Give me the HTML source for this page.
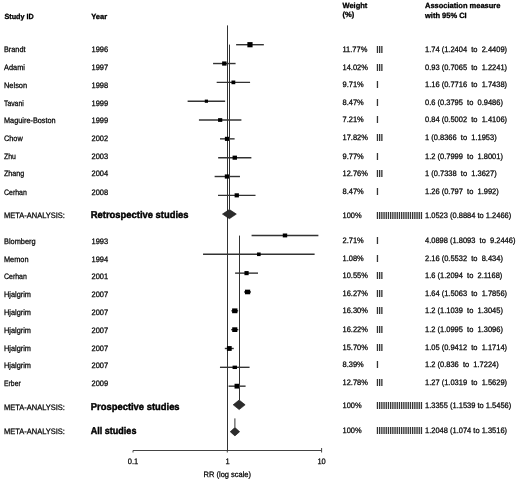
<!DOCTYPE html><html><head><meta charset="utf-8"><style>html,body{margin:0;padding:0;background:#fff;}svg{display:block;will-change:transform;}text{font-family:"Liberation Sans",sans-serif;white-space:pre;fill:#000;stroke:#000;}</style></head><body>
<svg width="520" height="480" viewBox="0 0 520 480">
<rect width="520" height="480" fill="#fff"/>
<text transform="translate(4.5,19) scale(1.0000,1)" font-size="7.5" font-weight="bold" textLength="29.20" lengthAdjust="spacingAndGlyphs" stroke-width="0.3" text-rendering="geometricPrecision">Study ID</text>
<text transform="translate(91.2,19) scale(1.0000,1)" font-size="7.5" font-weight="bold" stroke-width="0.3" text-rendering="geometricPrecision">Year</text>
<text transform="translate(342.5,8) scale(1.0000,1)" font-size="7.5" font-weight="bold" stroke-width="0.3" text-rendering="geometricPrecision">Weight</text>
<text transform="translate(342.5,17) scale(1.0000,1)" font-size="7.5" font-weight="bold" stroke-width="0.3" text-rendering="geometricPrecision">(%)</text>
<text transform="translate(425.0,8) scale(1.0000,1)" font-size="7.5" font-weight="bold" stroke-width="0.3" text-rendering="geometricPrecision">Association measure</text>
<text transform="translate(425.0,18) scale(1.0000,1)" font-size="7.5" font-weight="bold" stroke-width="0.3" text-rendering="geometricPrecision">with 95% CI</text>
<g stroke="#444" stroke-width="1" fill="none">
<line x1="133" y1="450.5" x2="321.6" y2="450.5"/>
<line x1="133" y1="450.5" x2="133" y2="452.5"/>
<line x1="227.3" y1="450.5" x2="227.3" y2="452.5"/>
<line x1="321.6" y1="448" x2="321.6" y2="452.5"/>
</g>
<line x1="227.5" y1="25.4" x2="227.5" y2="450.5" stroke="#333" stroke-width="1"/>
<line x1="236.12" y1="44.70" x2="263.85" y2="44.70" stroke="#333" stroke-width="1.4"/>
<rect x="247.38" y="42.10" width="5.2" height="5.2" fill="#000"/>
<text transform="translate(4,52) scale(0.9494,1)" font-size="7.9" textLength="22.62" lengthAdjust="spacingAndGlyphs" stroke-width="0.25" text-rendering="geometricPrecision">Brandt</text>
<text transform="translate(91.5,52) scale(0.9494,1)" font-size="7.9" stroke-width="0.25" text-rendering="geometricPrecision">1996</text>
<text transform="translate(342.5,52) scale(0.9494,1)" font-size="7.9" stroke-width="0.25" text-rendering="geometricPrecision">11.77%</text>
<text transform="translate(425.0,52) scale(0.9494,1)" font-size="7.9" stroke-width="0.25" text-rendering="geometricPrecision">1.74 (1.2404  to  2.4409)</text>
<rect x="376.80" y="46.00" width="1.3" height="7" fill="#333"/><rect x="379.00" y="46.00" width="1.3" height="7" fill="#333"/><rect x="381.20" y="46.00" width="1.3" height="7" fill="#333"/>
<line x1="213.07" y1="63.53" x2="235.58" y2="63.53" stroke="#333" stroke-width="1.4"/>
<rect x="222.13" y="61.43" width="4.4" height="4.2" fill="#000"/>
<text transform="translate(4,70) scale(0.9494,1)" font-size="7.9" textLength="22.06" lengthAdjust="spacingAndGlyphs" stroke-width="0.25" text-rendering="geometricPrecision">Adami</text>
<text transform="translate(91.5,70) scale(0.9494,1)" font-size="7.9" stroke-width="0.25" text-rendering="geometricPrecision">1997</text>
<text transform="translate(342.5,70) scale(0.9494,1)" font-size="7.9" stroke-width="0.25" text-rendering="geometricPrecision">14.02%</text>
<text transform="translate(425.0,70) scale(0.9494,1)" font-size="7.9" stroke-width="0.25" text-rendering="geometricPrecision">0.93 (0.7065  to  1.2241)</text>
<rect x="376.80" y="64.00" width="1.3" height="7" fill="#333"/><rect x="379.00" y="64.00" width="1.3" height="7" fill="#333"/><rect x="381.20" y="64.00" width="1.3" height="7" fill="#333"/>
<line x1="216.68" y1="82.36" x2="250.07" y2="82.36" stroke="#333" stroke-width="1.4"/>
<rect x="231.48" y="80.51" width="3.8" height="3.7" fill="#000"/>
<text transform="translate(4,88) scale(0.9494,1)" font-size="7.9" textLength="24.35" lengthAdjust="spacingAndGlyphs" stroke-width="0.25" text-rendering="geometricPrecision">Nelson</text>
<text transform="translate(91.5,88) scale(0.9494,1)" font-size="7.9" stroke-width="0.25" text-rendering="geometricPrecision">1998</text>
<text transform="translate(342.5,87) scale(0.9494,1)" font-size="7.9" stroke-width="0.25" text-rendering="geometricPrecision">9.71%</text>
<text transform="translate(425.0,87) scale(0.9494,1)" font-size="7.9" stroke-width="0.25" text-rendering="geometricPrecision">1.16 (0.7716  to  1.7438)</text>
<rect x="376.80" y="81.00" width="1.3" height="7" fill="#333"/>
<line x1="187.62" y1="101.19" x2="225.14" y2="101.19" stroke="#333" stroke-width="1.4"/>
<rect x="204.78" y="99.59" width="3.2" height="3.2" fill="#000"/>
<text transform="translate(4,106) scale(0.9494,1)" font-size="7.9" textLength="20.74" lengthAdjust="spacingAndGlyphs" stroke-width="0.25" text-rendering="geometricPrecision">Tavani</text>
<text transform="translate(91.5,106) scale(0.9494,1)" font-size="7.9" stroke-width="0.25" text-rendering="geometricPrecision">1999</text>
<text transform="translate(342.5,105) scale(0.9494,1)" font-size="7.9" stroke-width="0.25" text-rendering="geometricPrecision">8.47%</text>
<text transform="translate(425.0,105) scale(0.9494,1)" font-size="7.9" stroke-width="0.25" text-rendering="geometricPrecision">0.6 (0.3795  to  0.9486)</text>
<rect x="376.80" y="99.00" width="1.3" height="7" fill="#333"/>
<line x1="198.93" y1="120.02" x2="241.39" y2="120.02" stroke="#333" stroke-width="1.4"/>
<rect x="218.06" y="118.17" width="4.2" height="3.7" fill="#000"/>
<text transform="translate(4,123) scale(0.9494,1)" font-size="7.9" textLength="54.44" lengthAdjust="spacingAndGlyphs" stroke-width="0.25" text-rendering="geometricPrecision">Maguire-Boston</text>
<text transform="translate(91.5,123) scale(0.9494,1)" font-size="7.9" stroke-width="0.25" text-rendering="geometricPrecision">1999</text>
<text transform="translate(342.5,122) scale(0.9494,1)" font-size="7.9" stroke-width="0.25" text-rendering="geometricPrecision">7.21%</text>
<text transform="translate(425.0,122) scale(0.9494,1)" font-size="7.9" stroke-width="0.25" text-rendering="geometricPrecision">0.84 (0.5002  to  1.4106)</text>
<rect x="376.80" y="116.00" width="1.3" height="7" fill="#333"/>
<line x1="219.99" y1="138.85" x2="234.61" y2="138.85" stroke="#333" stroke-width="1.4"/>
<rect x="224.90" y="136.80" width="4.8" height="4.1" fill="#000"/>
<text transform="translate(4,141) scale(0.9494,1)" font-size="7.9" textLength="19.66" lengthAdjust="spacingAndGlyphs" stroke-width="0.25" text-rendering="geometricPrecision">Chow</text>
<text transform="translate(91.5,141) scale(0.9494,1)" font-size="7.9" stroke-width="0.25" text-rendering="geometricPrecision">2002</text>
<text transform="translate(342.5,140) scale(0.9494,1)" font-size="7.9" stroke-width="0.25" text-rendering="geometricPrecision">17.82%</text>
<text transform="translate(425.0,140) scale(0.9494,1)" font-size="7.9" stroke-width="0.25" text-rendering="geometricPrecision">1 (0.8366  to  1.1953)</text>
<rect x="376.80" y="134.00" width="1.3" height="7" fill="#333"/><rect x="379.00" y="134.00" width="1.3" height="7" fill="#333"/><rect x="381.20" y="134.00" width="1.3" height="7" fill="#333"/>
<line x1="218.16" y1="157.68" x2="251.37" y2="157.68" stroke="#333" stroke-width="1.4"/>
<rect x="232.57" y="155.63" width="4.4" height="4.1" fill="#000"/>
<text transform="translate(4,159) scale(0.9494,1)" font-size="7.9" textLength="12.56" lengthAdjust="spacingAndGlyphs" stroke-width="0.25" text-rendering="geometricPrecision">Zhu</text>
<text transform="translate(91.5,159) scale(0.9494,1)" font-size="7.9" stroke-width="0.25" text-rendering="geometricPrecision">2003</text>
<text transform="translate(342.5,159) scale(0.9494,1)" font-size="7.9" stroke-width="0.25" text-rendering="geometricPrecision">9.77%</text>
<text transform="translate(425.0,159) scale(0.9494,1)" font-size="7.9" stroke-width="0.25" text-rendering="geometricPrecision">1.2 (0.7999  to  1.8001)</text>
<rect x="376.80" y="153.00" width="1.3" height="7" fill="#333"/>
<line x1="214.62" y1="176.51" x2="239.97" y2="176.51" stroke="#333" stroke-width="1.4"/>
<rect x="224.80" y="174.41" width="5.0" height="4.2" fill="#000"/>
<text transform="translate(4,176) scale(0.9494,1)" font-size="7.9" textLength="21.31" lengthAdjust="spacingAndGlyphs" stroke-width="0.25" text-rendering="geometricPrecision">Zhang</text>
<text transform="translate(91.5,176) scale(0.9494,1)" font-size="7.9" stroke-width="0.25" text-rendering="geometricPrecision">2004</text>
<text transform="translate(342.5,176) scale(0.9494,1)" font-size="7.9" stroke-width="0.25" text-rendering="geometricPrecision">12.76%</text>
<text transform="translate(425.0,176) scale(0.9494,1)" font-size="7.9" stroke-width="0.25" text-rendering="geometricPrecision">1 (0.7338  to  1.3627)</text>
<rect x="376.80" y="170.00" width="1.3" height="7" fill="#333"/><rect x="379.00" y="170.00" width="1.3" height="7" fill="#333"/><rect x="381.20" y="170.00" width="1.3" height="7" fill="#333"/>
<line x1="218.01" y1="195.34" x2="255.52" y2="195.34" stroke="#333" stroke-width="1.4"/>
<rect x="234.61" y="193.29" width="4.3" height="4.1" fill="#000"/>
<text transform="translate(4,195) scale(0.9494,1)" font-size="7.9" textLength="24.03" lengthAdjust="spacingAndGlyphs" stroke-width="0.25" text-rendering="geometricPrecision">Cerhan</text>
<text transform="translate(91.5,195) scale(0.9494,1)" font-size="7.9" stroke-width="0.25" text-rendering="geometricPrecision">2008</text>
<text transform="translate(342.5,194) scale(0.9494,1)" font-size="7.9" stroke-width="0.25" text-rendering="geometricPrecision">8.47%</text>
<text transform="translate(425.0,194) scale(0.9494,1)" font-size="7.9" stroke-width="0.25" text-rendering="geometricPrecision">1.26 (0.797  to  1.992)</text>
<rect x="376.80" y="188.00" width="1.3" height="7" fill="#333"/>
<line x1="251.58" y1="235.45" x2="318.38" y2="235.45" stroke="#333" stroke-width="1.4"/>
<rect x="282.78" y="233.50" width="4.4" height="3.9" fill="#000"/>
<text transform="translate(4,244) scale(0.9494,1)" font-size="7.9" textLength="33.36" lengthAdjust="spacingAndGlyphs" stroke-width="0.25" text-rendering="geometricPrecision">Blomberg</text>
<text transform="translate(91.5,244) scale(0.9494,1)" font-size="7.9" stroke-width="0.25" text-rendering="geometricPrecision">1993</text>
<text transform="translate(342.5,243) scale(0.9494,1)" font-size="7.9" stroke-width="0.25" text-rendering="geometricPrecision">2.71%</text>
<text transform="translate(425.0,243) scale(0.9494,1)" font-size="7.9" stroke-width="0.25" text-rendering="geometricPrecision">4.0898 (1.8093  to  9.2446)</text>
<rect x="376.80" y="237.00" width="1.3" height="7" fill="#333"/>
<line x1="203.05" y1="254.29" x2="314.62" y2="254.29" stroke="#333" stroke-width="1.4"/>
<rect x="257.04" y="252.49" width="3.6" height="3.6" fill="#000"/>
<text transform="translate(4,262) scale(0.9494,1)" font-size="7.9" textLength="25.79" lengthAdjust="spacingAndGlyphs" stroke-width="0.25" text-rendering="geometricPrecision">Memon</text>
<text transform="translate(91.5,262) scale(0.9494,1)" font-size="7.9" stroke-width="0.25" text-rendering="geometricPrecision">1994</text>
<text transform="translate(342.5,261) scale(0.9494,1)" font-size="7.9" stroke-width="0.25" text-rendering="geometricPrecision">1.08%</text>
<text transform="translate(425.0,261) scale(0.9494,1)" font-size="7.9" stroke-width="0.25" text-rendering="geometricPrecision">2.16 (0.5532  to  8.434)</text>
<rect x="376.80" y="255.00" width="1.3" height="7" fill="#333"/>
<line x1="235.09" y1="273.13" x2="258.01" y2="273.13" stroke="#333" stroke-width="1.4"/>
<rect x="244.45" y="271.08" width="4.2" height="4.1" fill="#000"/>
<text transform="translate(4,279) scale(0.9494,1)" font-size="7.9" textLength="24.03" lengthAdjust="spacingAndGlyphs" stroke-width="0.25" text-rendering="geometricPrecision">Cerhan</text>
<text transform="translate(91.5,279) scale(0.9494,1)" font-size="7.9" stroke-width="0.25" text-rendering="geometricPrecision">2001</text>
<text transform="translate(342.5,278) scale(0.9494,1)" font-size="7.9" stroke-width="0.25" text-rendering="geometricPrecision">10.55%</text>
<text transform="translate(425.0,278) scale(0.9494,1)" font-size="7.9" stroke-width="0.25" text-rendering="geometricPrecision">1.6 (1.2094  to  2.1168)</text>
<rect x="376.80" y="272.00" width="1.3" height="7" fill="#333"/><rect x="379.00" y="272.00" width="1.3" height="7" fill="#333"/><rect x="381.20" y="272.00" width="1.3" height="7" fill="#333"/>
<line x1="244.08" y1="291.97" x2="251.04" y2="291.97" stroke="#333" stroke-width="1.4"/>
<rect x="244.96" y="289.67" width="5.2" height="4.6" fill="#000"/>
<text transform="translate(4,297) scale(0.9494,1)" font-size="7.9" textLength="28.40" lengthAdjust="spacingAndGlyphs" stroke-width="0.25" text-rendering="geometricPrecision">Hjalgrim</text>
<text transform="translate(91.5,297) scale(0.9494,1)" font-size="7.9" stroke-width="0.25" text-rendering="geometricPrecision">2007</text>
<text transform="translate(342.5,296) scale(0.9494,1)" font-size="7.9" stroke-width="0.25" text-rendering="geometricPrecision">16.27%</text>
<text transform="translate(425.0,296) scale(0.9494,1)" font-size="7.9" stroke-width="0.25" text-rendering="geometricPrecision">1.64 (1.5063  to  1.7856)</text>
<rect x="376.80" y="290.00" width="1.3" height="7" fill="#333"/><rect x="379.00" y="290.00" width="1.3" height="7" fill="#333"/><rect x="381.20" y="290.00" width="1.3" height="7" fill="#333"/>
<line x1="231.35" y1="310.81" x2="238.19" y2="310.81" stroke="#333" stroke-width="1.4"/>
<rect x="232.12" y="308.41" width="5.3" height="4.8" fill="#000"/>
<text transform="translate(4,315) scale(0.9494,1)" font-size="7.9" textLength="28.40" lengthAdjust="spacingAndGlyphs" stroke-width="0.25" text-rendering="geometricPrecision">Hjalgrim</text>
<text transform="translate(91.5,315) scale(0.9494,1)" font-size="7.9" stroke-width="0.25" text-rendering="geometricPrecision">2007</text>
<text transform="translate(342.5,313) scale(0.9494,1)" font-size="7.9" stroke-width="0.25" text-rendering="geometricPrecision">16.30%</text>
<text transform="translate(425.0,313) scale(0.9494,1)" font-size="7.9" stroke-width="0.25" text-rendering="geometricPrecision">1.2 (1.1039  to  1.3045)</text>
<rect x="376.80" y="307.00" width="1.3" height="7" fill="#333"/><rect x="379.00" y="307.00" width="1.3" height="7" fill="#333"/><rect x="381.20" y="307.00" width="1.3" height="7" fill="#333"/>
<line x1="231.18" y1="329.65" x2="238.35" y2="329.65" stroke="#333" stroke-width="1.4"/>
<rect x="232.22" y="327.30" width="5.1" height="4.7" fill="#000"/>
<text transform="translate(4,333) scale(0.9494,1)" font-size="7.9" textLength="28.40" lengthAdjust="spacingAndGlyphs" stroke-width="0.25" text-rendering="geometricPrecision">Hjalgrim</text>
<text transform="translate(91.5,333) scale(0.9494,1)" font-size="7.9" stroke-width="0.25" text-rendering="geometricPrecision">2007</text>
<text transform="translate(342.5,332) scale(0.9494,1)" font-size="7.9" stroke-width="0.25" text-rendering="geometricPrecision">16.22%</text>
<text transform="translate(425.0,332) scale(0.9494,1)" font-size="7.9" stroke-width="0.25" text-rendering="geometricPrecision">1.2 (1.0995  to  1.3096)</text>
<rect x="376.80" y="326.00" width="1.3" height="7" fill="#333"/><rect x="379.00" y="326.00" width="1.3" height="7" fill="#333"/><rect x="381.20" y="326.00" width="1.3" height="7" fill="#333"/>
<line x1="224.82" y1="348.49" x2="233.78" y2="348.49" stroke="#333" stroke-width="1.4"/>
<rect x="226.90" y="346.09" width="4.8" height="4.8" fill="#000"/>
<text transform="translate(4,351) scale(0.9494,1)" font-size="7.9" textLength="28.40" lengthAdjust="spacingAndGlyphs" stroke-width="0.25" text-rendering="geometricPrecision">Hjalgrim</text>
<text transform="translate(91.5,351) scale(0.9494,1)" font-size="7.9" stroke-width="0.25" text-rendering="geometricPrecision">2007</text>
<text transform="translate(342.5,350) scale(0.9494,1)" font-size="7.9" stroke-width="0.25" text-rendering="geometricPrecision">15.70%</text>
<text transform="translate(425.0,350) scale(0.9494,1)" font-size="7.9" stroke-width="0.25" text-rendering="geometricPrecision">1.05 (0.9412  to  1.1714)</text>
<rect x="376.80" y="344.00" width="1.3" height="7" fill="#333"/><rect x="379.00" y="344.00" width="1.3" height="7" fill="#333"/><rect x="381.20" y="344.00" width="1.3" height="7" fill="#333"/>
<line x1="219.96" y1="367.33" x2="249.57" y2="367.33" stroke="#333" stroke-width="1.4"/>
<rect x="232.57" y="365.63" width="4.4" height="3.4" fill="#000"/>
<text transform="translate(4,368) scale(0.9494,1)" font-size="7.9" textLength="28.40" lengthAdjust="spacingAndGlyphs" stroke-width="0.25" text-rendering="geometricPrecision">Hjalgrim</text>
<text transform="translate(91.5,368) scale(0.9494,1)" font-size="7.9" stroke-width="0.25" text-rendering="geometricPrecision">2007</text>
<text transform="translate(342.5,367) scale(0.9494,1)" font-size="7.9" stroke-width="0.25" text-rendering="geometricPrecision">8.39%</text>
<text transform="translate(425.0,367) scale(0.9494,1)" font-size="7.9" stroke-width="0.25" text-rendering="geometricPrecision">1.2 (0.836  to  1.7224)</text>
<rect x="376.80" y="361.00" width="1.3" height="7" fill="#333"/>
<line x1="228.59" y1="386.17" x2="245.59" y2="386.17" stroke="#333" stroke-width="1.4"/>
<rect x="234.54" y="383.77" width="5.1" height="4.8" fill="#000"/>
<text transform="translate(4,386) scale(0.9494,1)" font-size="7.9" textLength="17.67" lengthAdjust="spacingAndGlyphs" stroke-width="0.25" text-rendering="geometricPrecision">Erber</text>
<text transform="translate(91.5,386) scale(0.9494,1)" font-size="7.9" stroke-width="0.25" text-rendering="geometricPrecision">2009</text>
<text transform="translate(342.5,385) scale(0.9494,1)" font-size="7.9" stroke-width="0.25" text-rendering="geometricPrecision">12.78%</text>
<text transform="translate(425.0,385) scale(0.9494,1)" font-size="7.9" stroke-width="0.25" text-rendering="geometricPrecision">1.27 (1.0319  to  1.5629)</text>
<rect x="376.80" y="379.00" width="1.3" height="7" fill="#333"/><rect x="379.00" y="379.00" width="1.3" height="7" fill="#333"/><rect x="381.20" y="379.00" width="1.3" height="7" fill="#333"/>
<line x1="229.50" y1="44.6" x2="229.50" y2="209.50" stroke="#333" stroke-width="1"/>
<polygon points="222.45,214.1 229.39,209.50 236.33,214.1 229.39,218.70" fill="#2c2c2c" stroke="#111" stroke-width="0.6"/>
<text transform="translate(4,218) scale(0.9494,1)" font-size="7.9" stroke-width="0.25" text-rendering="geometricPrecision">META-ANALYSIS:</text>
<text transform="translate(342.5,218) scale(0.9494,1)" font-size="7.9" stroke-width="0.25" text-rendering="geometricPrecision">100%</text>
<text transform="translate(425.0,218) scale(0.9494,1)" font-size="7.9" stroke-width="0.25" text-rendering="geometricPrecision">1.0523 (0.8884 to 1.2466)</text>
<text transform="translate(90.8,218) scale(0.9592,1)" font-size="9.8" font-weight="bold" stroke-width="0.42" text-rendering="geometricPrecision">Retrospective studies</text>
<rect x="376.80" y="212.00" width="1.3" height="7" fill="#333"/><rect x="379.00" y="212.00" width="1.3" height="7" fill="#333"/><rect x="381.20" y="212.00" width="1.3" height="7" fill="#333"/><rect x="383.40" y="212.00" width="1.3" height="7" fill="#333"/><rect x="385.60" y="212.00" width="1.3" height="7" fill="#333"/><rect x="387.80" y="212.00" width="1.3" height="7" fill="#333"/><rect x="390.00" y="212.00" width="1.3" height="7" fill="#333"/><rect x="392.20" y="212.00" width="1.3" height="7" fill="#333"/><rect x="394.40" y="212.00" width="1.3" height="7" fill="#333"/><rect x="396.60" y="212.00" width="1.3" height="7" fill="#333"/><rect x="398.80" y="212.00" width="1.3" height="7" fill="#333"/><rect x="401.00" y="212.00" width="1.3" height="7" fill="#333"/><rect x="403.20" y="212.00" width="1.3" height="7" fill="#333"/><rect x="405.40" y="212.00" width="1.3" height="7" fill="#333"/><rect x="407.60" y="212.00" width="1.3" height="7" fill="#333"/><rect x="409.80" y="212.00" width="1.3" height="7" fill="#333"/><rect x="412.00" y="212.00" width="1.3" height="7" fill="#333"/><rect x="414.20" y="212.00" width="1.3" height="7" fill="#333"/><rect x="416.40" y="212.00" width="1.3" height="7" fill="#333"/><rect x="418.60" y="212.00" width="1.3" height="7" fill="#333"/><rect x="420.80" y="212.00" width="1.3" height="7" fill="#333"/>
<line x1="239.50" y1="235.6" x2="239.50" y2="400.00" stroke="#333" stroke-width="1"/>
<polygon points="233.16,404.8 239.15,400.00 245.13,404.8 239.15,409.60" fill="#2c2c2c" stroke="#111" stroke-width="0.6"/>
<text transform="translate(4,410) scale(0.9494,1)" font-size="7.9" stroke-width="0.25" text-rendering="geometricPrecision">META-ANALYSIS:</text>
<text transform="translate(342.5,408) scale(0.9494,1)" font-size="7.9" stroke-width="0.25" text-rendering="geometricPrecision">100%</text>
<text transform="translate(425.0,408) scale(0.9494,1)" font-size="7.9" stroke-width="0.25" text-rendering="geometricPrecision">1.3355 (1.1539 to 1.5456)</text>
<text transform="translate(90.8,410) scale(0.9592,1)" font-size="9.8" font-weight="bold" stroke-width="0.42" text-rendering="geometricPrecision">Prospective studies</text>
<rect x="376.80" y="402.00" width="1.3" height="7" fill="#333"/><rect x="379.00" y="402.00" width="1.3" height="7" fill="#333"/><rect x="381.20" y="402.00" width="1.3" height="7" fill="#333"/><rect x="383.40" y="402.00" width="1.3" height="7" fill="#333"/><rect x="385.60" y="402.00" width="1.3" height="7" fill="#333"/><rect x="387.80" y="402.00" width="1.3" height="7" fill="#333"/><rect x="390.00" y="402.00" width="1.3" height="7" fill="#333"/><rect x="392.20" y="402.00" width="1.3" height="7" fill="#333"/><rect x="394.40" y="402.00" width="1.3" height="7" fill="#333"/><rect x="396.60" y="402.00" width="1.3" height="7" fill="#333"/><rect x="398.80" y="402.00" width="1.3" height="7" fill="#333"/><rect x="401.00" y="402.00" width="1.3" height="7" fill="#333"/><rect x="403.20" y="402.00" width="1.3" height="7" fill="#333"/><rect x="405.40" y="402.00" width="1.3" height="7" fill="#333"/><rect x="407.60" y="402.00" width="1.3" height="7" fill="#333"/><rect x="409.80" y="402.00" width="1.3" height="7" fill="#333"/><rect x="412.00" y="402.00" width="1.3" height="7" fill="#333"/><rect x="414.20" y="402.00" width="1.3" height="7" fill="#333"/><rect x="416.40" y="402.00" width="1.3" height="7" fill="#333"/><rect x="418.60" y="402.00" width="1.3" height="7" fill="#333"/><rect x="420.80" y="402.00" width="1.3" height="7" fill="#333"/>
<line x1="234.90" y1="418.4" x2="234.90" y2="427.50" stroke="#333" stroke-width="1"/>
<polygon points="230.22,431.7 234.93,427.50 239.64,431.7 234.93,435.90" fill="#2c2c2c" stroke="#111" stroke-width="0.6"/>
<text transform="translate(4,434) scale(0.9494,1)" font-size="7.9" stroke-width="0.25" text-rendering="geometricPrecision">META-ANALYSIS:</text>
<text transform="translate(342.5,433) scale(0.9494,1)" font-size="7.9" stroke-width="0.25" text-rendering="geometricPrecision">100%</text>
<text transform="translate(425.0,433) scale(0.9494,1)" font-size="7.9" stroke-width="0.25" text-rendering="geometricPrecision">1.2048 (1.074 to 1.3516)</text>
<text transform="translate(90.8,434) scale(0.9592,1)" font-size="9.8" font-weight="bold" textLength="47.54" lengthAdjust="spacingAndGlyphs" stroke-width="0.42" text-rendering="geometricPrecision">All studies</text>
<rect x="376.80" y="427.00" width="1.3" height="7" fill="#333"/><rect x="379.00" y="427.00" width="1.3" height="7" fill="#333"/><rect x="381.20" y="427.00" width="1.3" height="7" fill="#333"/><rect x="383.40" y="427.00" width="1.3" height="7" fill="#333"/><rect x="385.60" y="427.00" width="1.3" height="7" fill="#333"/><rect x="387.80" y="427.00" width="1.3" height="7" fill="#333"/><rect x="390.00" y="427.00" width="1.3" height="7" fill="#333"/><rect x="392.20" y="427.00" width="1.3" height="7" fill="#333"/><rect x="394.40" y="427.00" width="1.3" height="7" fill="#333"/><rect x="396.60" y="427.00" width="1.3" height="7" fill="#333"/><rect x="398.80" y="427.00" width="1.3" height="7" fill="#333"/><rect x="401.00" y="427.00" width="1.3" height="7" fill="#333"/><rect x="403.20" y="427.00" width="1.3" height="7" fill="#333"/><rect x="405.40" y="427.00" width="1.3" height="7" fill="#333"/><rect x="407.60" y="427.00" width="1.3" height="7" fill="#333"/><rect x="409.80" y="427.00" width="1.3" height="7" fill="#333"/><rect x="412.00" y="427.00" width="1.3" height="7" fill="#333"/><rect x="414.20" y="427.00" width="1.3" height="7" fill="#333"/><rect x="416.40" y="427.00" width="1.3" height="7" fill="#333"/><rect x="418.60" y="427.00" width="1.3" height="7" fill="#333"/><rect x="420.80" y="427.00" width="1.3" height="7" fill="#333"/>
<text transform="translate(133,464) scale(0.9494,1)" font-size="7.9" text-anchor="middle" stroke-width="0.25" text-rendering="geometricPrecision">0.1</text>
<text transform="translate(227.5,464) scale(0.9494,1)" font-size="7.9" text-anchor="middle" stroke-width="0.25" text-rendering="geometricPrecision">1</text>
<text transform="translate(321.6,464) scale(0.9494,1)" font-size="7.9" text-anchor="middle" stroke-width="0.25" text-rendering="geometricPrecision">10</text>
<text transform="translate(227.3,477) scale(0.9494,1)" font-size="7.9" text-anchor="middle" stroke-width="0.25" text-rendering="geometricPrecision">RR (log scale)</text>
</svg></body></html>
